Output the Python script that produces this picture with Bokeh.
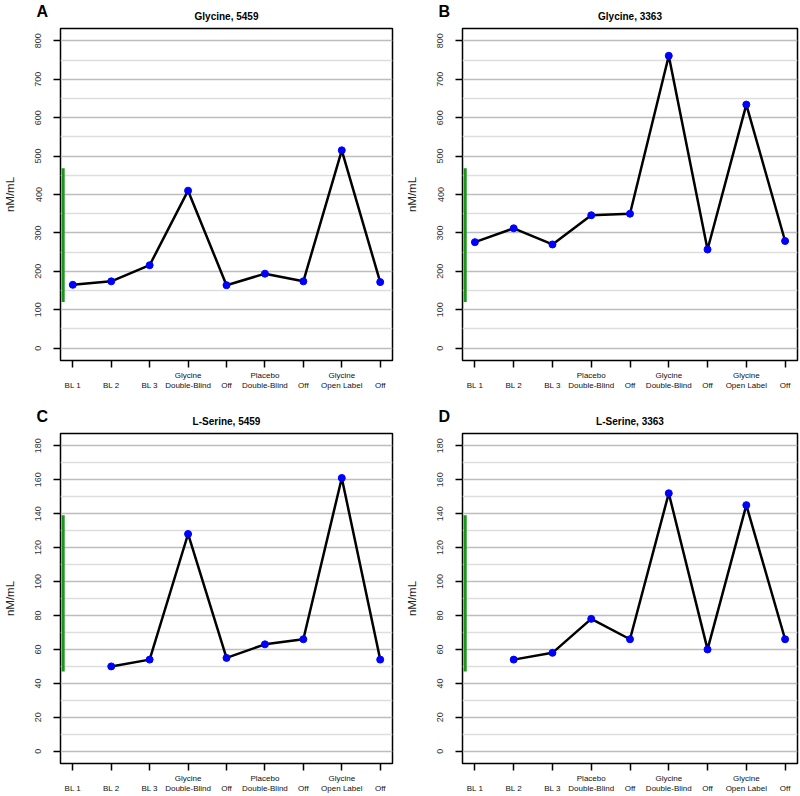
import math
from bokeh.plotting import figure
from bokeh.models import Range1d, FixedTicker, Title
from bokeh.layouts import column, row
from bokeh.embed import file_html
from bokeh.resources import INLINE

nan = float("nan")

# ---- data ----
x_pos = [1, 2, 3, 4, 5, 6, 7, 8, 9]
labels_5459 = ["BL 1", "BL 2", "BL 3", "Glycine\nDouble-Blind", "Off",
               "Placebo\nDouble-Blind", "Off", "Glycine\nOpen Label", "Off"]
labels_3363 = ["BL 1", "BL 2", "BL 3", "Placebo\nDouble-Blind", "Off",
               "Glycine\nDouble-Blind", "Off", "Glycine\nOpen Label", "Off"]

glycine_5459 = [165, 174, 216, 410, 164, 194, 174, 515, 172]
glycine_3363 = [276, 312, 270, 346, 350, 761, 257, 634, 279]
serine_5459 = [nan, 50, 54, 128, 55, 63, 66, 161, 54]
serine_3363 = [nan, 54, 58, 78, 66, 152, 60, 145, 66]

glycine_normal = [120, 468]
serine_normal = [47, 139]
normal_x = 0.75

glycine_ticks = [0, 100, 200, 300, 400, 500, 600, 700, 800]
glycine_minor = [50, 150, 250, 350, 450, 550, 650, 750]
serine_ticks = [0, 20, 40, 60, 80, 100, 120, 140, 160, 180]
serine_minor = [10, 30, 50, 70, 90, 110, 130, 150, 170]

FONT = "Liberation Sans"


def panel(letter, title, values, xlabels, normal, ticks, minor, ymax,
          left_border, right_border, top_border, bottom_border, frame_h, frame_w):
    pad_y = ymax * 0.04
    pad_x = (x_pos[-1] - x_pos[0]) * 0.04
    p = figure(width=left_border + frame_w + right_border,
               height=top_border + frame_h + bottom_border,
               x_range=Range1d(x_pos[0] - pad_x, x_pos[-1] + pad_x),
               y_range=Range1d(-pad_y, ymax + pad_y),
               output_backend="svg", toolbar_location=None, tools="",
               min_border_left=left_border, min_border_right=right_border,
               min_border_top=top_border, min_border_bottom=bottom_border)
    p.background_fill_color = "white"
    p.border_fill_color = "white"
    p.outline_line_color = "black"
    p.outline_line_width = 1.5

    # panel title (nearest the frame)
    p.add_layout(Title(text=title, align="center", text_font=FONT,
                       text_font_size="10px", text_font_style="bold",
                       text_color="black", standoff=14), "above")
    # panel letter (outer title, pulled down with negative standoff)
    p.title.text = letter
    p.title.align = "left"
    p.title.offset = -24
    p.title.text_font = FONT
    p.title.text_font_size = "16px"
    p.title.text_font_style = "bold"
    p.title.text_color = "black"
    p.title.standoff = -36

    # grid
    yt = FixedTicker(ticks=ticks, minor_ticks=minor)
    p.xgrid.visible = False
    p.ygrid.ticker = yt
    p.ygrid.grid_line_color = "#bdbdbd"
    p.ygrid.grid_line_width = 1.5
    p.ygrid.minor_grid_line_color = "#dedede"
    p.ygrid.minor_grid_line_width = 1.5

    # y axis
    ya = p.yaxis[0]
    ya.ticker = FixedTicker(ticks=ticks)
    ya.axis_line_color = None
    ya.major_tick_in = 0
    ya.major_tick_out = 7
    ya.major_tick_line_width = 1.5
    ya.minor_tick_line_color = None
    ya.major_label_orientation = "vertical"
    ya.major_label_text_font = FONT
    ya.major_label_text_font_size = "9px"
    ya.major_label_text_color = "#333333"
    ya.major_label_standoff = 12
    ya.axis_label = "nM/mL"
    ya.axis_label_text_font = FONT
    ya.axis_label_text_font_size = "11.5px"
    ya.axis_label_text_font_style = "normal"
    ya.axis_label_text_color = "#222222"
    ya.axis_label_standoff = 17

    # x axis
    xa = p.xaxis[0]
    xa.ticker = FixedTicker(ticks=x_pos)
    xa.major_label_overrides = {
        x: (lab if "\n" in lab else "\n" + lab) for x, lab in zip(x_pos, xlabels)
    }
    xa.axis_line_color = None
    xa.major_tick_in = 0
    xa.major_tick_out = 7
    xa.major_tick_line_width = 1.5
    xa.minor_tick_line_color = None
    xa.major_label_text_font = FONT
    xa.major_label_text_font_size = "8px"
    xa.major_label_text_color = "#111111"
    xa.major_label_standoff = 3

    # normal range bar
    p.segment(x0=[normal_x], x1=[normal_x], y0=[normal[0]], y1=[normal[1]],
              line_color="#1c961c", line_width=3)
    # series
    p.line(x_pos, values, line_color="black", line_width=2.5)
    p.scatter(x_pos, values, size=7, fill_color="#0000ff", line_color="#0000ff")
    return p


pA = panel("A", "Glycine, 5459", glycine_5459, labels_5459, glycine_normal,
           glycine_ticks, glycine_minor, 800, 58, 8, 28, 38, 332, 334)
pB = panel("B", "Glycine, 3363", glycine_3363, labels_3363, glycine_normal,
           glycine_ticks, glycine_minor, 800, 62, 3, 28, 38, 332, 335)
pC = panel("C", "L-Serine, 5459", serine_5459, labels_5459, serine_normal,
           serine_ticks, serine_minor, 180, 58, 8, 35, 32, 331, 334)
pD = panel("D", "L-Serine, 3363", serine_3363, labels_3363, serine_normal,
           serine_ticks, serine_minor, 180, 62, 3, 35, 32, 331, 335)

layout = column(row(pA, pB), row(pC, pD))
open("out.html", "w").write(file_html(layout, INLINE))
